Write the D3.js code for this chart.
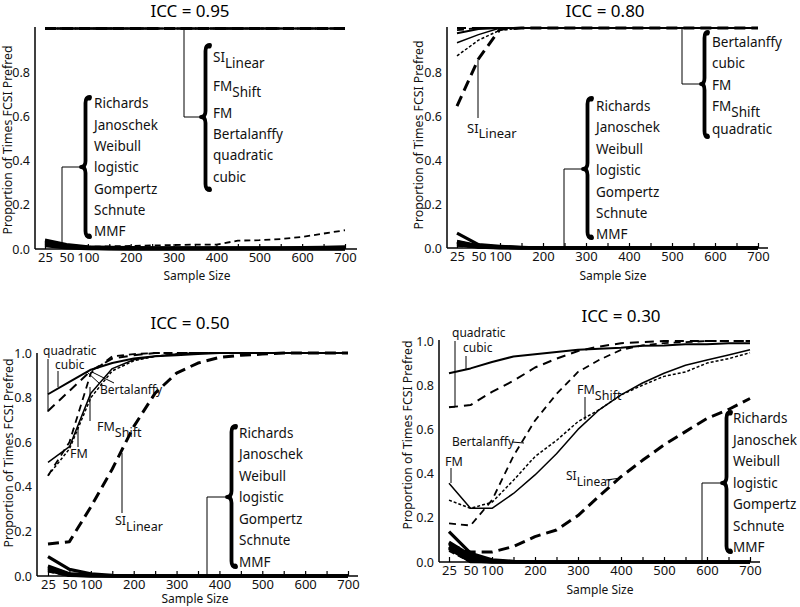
<!DOCTYPE html>
<html><head><meta charset="utf-8">
<script src="https://cdn.jsdelivr.net/npm/d3@7"></script>
<style>
body{margin:0;background:#fff;}
svg{font-family:"Noto Sans","Open Sans",sans-serif;}
</style></head><body>
<svg id="chart" width="800" height="607"></svg>
<script>
// ---------------- data ----------------
const sampleSizes = [25,50,100,150,200,250,300,350,400,450,500,550,600,650,700];
const xTickLabels = [25,50,100,200,300,400,500,600,700];
const yTicksTop = [0,0.2,0.4,0.6,0.8];
const yTicksBottom = [0,0.2,0.4,0.6,0.8,1.0];
const panelTitles = ["ICC = 0.95","ICC = 0.80","ICC = 0.50","ICC = 0.30"];
const lowModels = ["Richards","Janoschek","Weibull","logistic","Gompertz","Schnute","MMF"];
const highModels = ["SI_Linear","FM_Shift","FM","Bertalanffy","quadratic","cubic"];

const icc95 = {
  Richards:   [0.04,0.02,0.01,0.008,0.006,0.005,0.005,0.005,0.005,0.005,0.005,0.005,0.006,0.008,0.01],
  Janoschek:  [0.035,0.015,0.008,0.005,0.004,0.004,0.004,0.004,0.004,0.004,0.004,0.004,0.004,0.005,0.006],
  Weibull:    [0.03,0.012,0.006,0.004,0.003,0.003,0.003,0.003,0.003,0.003,0.003,0.003,0.003,0.003,0.004],
  logistic:   [0.025,0.01,0.005,0.003,0.002,0.002,0.002,0.002,0.002,0.002,0.002,0.002,0.002,0.002,0.002],
  Gompertz:   [0.02,0.008,0.004,0.002,0.001,0.001,0.001,0.001,0.001,0.001,0.001,0.001,0.001,0.001,0.001],
  Schnute:    [0.015,0.005,0.002,0,0,0,0,0,0,0,0,0,0,0,0],
  MMF:        [0.03,0.015,0.01,0.012,0.014,0.016,0.018,0.02,0.02,0.038,0.04,0.045,0.055,0.07,0.085],
  SI_Linear:  [1,1,1,1,1,1,1,1,1,1,1,1,1,1,1],
  FM_Shift:   [1,1,1,1,1,1,1,1,1,1,1,1,1,1,1],
  FM:         [1,1,1,1,1,1,1,1,1,1,1,1,1,1,1],
  Bertalanffy:[1,1,1,1,1,1,1,1,1,1,1,1,1,1,1],
  quadratic:  [1,1,1,1,1,1,1,1,1,1,1,1,1,1,1],
  cubic:      [1,1,1,1,1,1,1,1,1,1,1,1,1,1,1]
};
const icc80 = {
  Richards:   [0.068,0.015,0.008,0.003,0,0,0,0,0,0,0,0,0,0,0],
  Janoschek:  [0.03,0.01,0.005,0.002,0,0,0,0,0,0,0,0,0,0,0],
  Weibull:    [0.028,0.008,0.004,0.001,0,0,0,0,0,0,0,0,0,0,0],
  logistic:   [0.025,0.006,0.003,0,0,0,0,0,0,0,0,0,0,0,0],
  Gompertz:   [0.02,0.005,0.002,0,0,0,0,0,0,0,0,0,0,0,0],
  Schnute:    [0.015,0.004,0.001,0,0,0,0,0,0,0,0,0,0,0,0],
  MMF:        [0.01,0.003,0,0,0,0,0,0,0,0,0,0,0,0,0],
  SI_Linear:  [0.645,0.86,0.995,1,1,1,1,1,1,1,1,1,1,1,1],
  FM_Shift:   [0.873,0.945,0.99,1,1,1,1,1,1,1,1,1,1,1,1],
  FM:         [0.933,0.97,1,1,1,1,1,1,1,1,1,1,1,1,1],
  Bertalanffy:[0.99,1,1,1,1,1,1,1,1,1,1,1,1,1,1],
  quadratic:  [1,1,1,1,1,1,1,1,1,1,1,1,1,1,1],
  cubic:      [0.976,0.995,1,1,1,1,1,1,1,1,1,1,1,1,1]
};
const icc50 = {
  Richards:   [0.087,0.03,0.01,0.003,0,0,0,0,0,0,0,0,0,0,0],
  Janoschek:  [0.045,0.01,0.005,0,0,0,0,0,0,0,0,0,0,0,0],
  Weibull:    [0.04,0.008,0.003,0,0,0,0,0,0,0,0,0,0,0,0],
  logistic:   [0.035,0.005,0.002,0,0,0,0,0,0,0,0,0,0,0,0],
  Gompertz:   [0.03,0.004,0,0,0,0,0,0,0,0,0,0,0,0,0],
  Schnute:    [0.025,0.003,0,0,0,0,0,0,0,0,0,0,0,0,0],
  MMF:        [0.02,0,0,0,0,0,0,0,0,0,0,0,0,0,0],
  SI_Linear:  [0.143,0.154,0.31,0.48,0.67,0.82,0.91,0.955,0.98,0.99,0.995,1,1,1,1],
  FM_Shift:   [0.45,0.57,0.80,0.92,0.965,0.985,0.995,1,1,1,1,1,1,1,1],
  FM:         [0.51,0.58,0.82,0.93,0.97,0.985,0.995,1,1,1,1,1,1,1,1],
  Bertalanffy:[0.45,0.6,0.91,0.985,0.995,1,1,1,1,1,1,1,1,1,1],
  quadratic:  [0.74,0.83,0.92,0.975,0.99,1,1,1,1,1,1,1,1,1,1],
  cubic:      [0.815,0.87,0.925,0.955,0.975,0.985,0.99,0.995,1,1,1,1,1,1,1]
};
const icc30 = {
  Richards:   [0.137,0.04,0.01,0.003,0,0,0,0,0,0,0,0,0,0,0],
  Janoschek:  [0.09,0.03,0.005,0,0,0,0,0,0,0,0,0,0,0,0],
  Weibull:    [0.085,0.02,0.003,0,0,0,0,0,0,0,0,0,0,0,0],
  logistic:   [0.07,0.01,0,0,0,0,0,0,0,0,0,0,0,0,0],
  Gompertz:   [0.065,0.005,0,0,0,0,0,0,0,0,0,0,0,0,0],
  Schnute:    [0.06,0.002,0,0,0,0,0,0,0,0,0,0,0,0,0],
  MMF:        [0.05,0,0,0,0,0,0,0,0,0,0,0,0,0,0],
  SI_Linear:  [0.08,0.045,0.045,0.07,0.115,0.145,0.21,0.30,0.386,0.46,0.53,0.59,0.65,0.69,0.74],
  FM_Shift:   [0.28,0.243,0.27,0.37,0.477,0.55,0.635,0.69,0.756,0.80,0.84,0.86,0.90,0.92,0.947],
  FM:         [0.356,0.243,0.243,0.31,0.394,0.49,0.60,0.69,0.756,0.81,0.854,0.89,0.914,0.937,0.96],
  Bertalanffy:[0.175,0.165,0.28,0.48,0.64,0.76,0.86,0.915,0.96,0.98,0.99,0.995,1,1,1],
  quadratic:  [0.70,0.71,0.77,0.82,0.88,0.92,0.955,0.975,0.99,0.995,1,1,1,1,1],
  cubic:      [0.854,0.876,0.905,0.93,0.94,0.95,0.96,0.965,0.97,0.978,0.98,0.985,0.985,0.99,0.99]
};
const panelData = [icc95, icc80, icc50, icc30];

// ---------------- styles ----------------
const lineStyle = {
  Richards:{w:3.2,dash:null}, Janoschek:{w:3.2,dash:null}, Weibull:{w:3.2,dash:null},
  logistic:{w:3.2,dash:null}, Gompertz:{w:3.2,dash:null}, Schnute:{w:3.2,dash:null},
  MMF:{w:1.8,dash:"6,4"},
  SI_Linear:{w:3,dash:"11,6"},
  FM_Shift:{w:1.5,dash:"3,2"},
  FM:{w:1.5,dash:null},
  Bertalanffy:{w:1.8,dash:"7,5"},
  quadratic:{w:2,dash:"9,6"},
  cubic:{w:2,dash:null}
};

const layout = [
  {x0:45,x1:345,yZero:249,yOne:28.5,axisX:35,axisEnd:357,axisTop:27,yTicks:yTicksTop,
   titleX:190,titleY:17,xLabX:197,xLabY:280,yLabX:8,yLabY:140},
  {x0:457,x1:758,yZero:248,yOne:28,axisX:447,axisEnd:768,axisTop:27,yTicks:yTicksTop,
   titleX:605,titleY:17,xLabX:613,xLabY:280,yLabX:419,yLabY:135},
  {x0:48,x1:348,yZero:576,yOne:353,axisX:37,axisEnd:358,axisTop:353,yTicks:yTicksBottom,
   titleX:190,titleY:329,xLabX:195,xLabY:603,yLabX:9,yLabY:453},
  {x0:449,x1:750,yZero:562,yOne:341,axisX:439,axisEnd:760,axisTop:340,yTicks:yTicksBottom,
   titleX:621,titleY:322,xLabX:600,xLabY:594,yLabX:408,yLabY:435}
];

// annotations (brace: [tipX, rightX, top, bottom, tipY])
const annotations = [
  { groups:[
      {items:lowModels, textX:94, ys:[103,125,146,167,189,210,231], brace:[81,90,97,237,167],
       leader:[[81,167],[62,167],[62,249]]},
      {items:["SI_Linear","FM_Shift","FM","Bertalanffy","quadratic","cubic"], textX:213,
       ys:[57,86,113,134,155,177], brace:[201,210,45,190,117], leader:[[201,117],[184,117],[184,27]]}
    ], labels:[], leaders:[] },
  { groups:[
      {items:["Bertalanffy","cubic","FM","FM_Shift","quadratic"], textX:712, ys:[42,63,85,106,129],
       brace:[701,708,32,137,84], leader:[[701,84],[682,84],[682,27]]},
      {items:lowModels, textX:596, ys:[106,127,149,170,192,213,234], brace:[583,592,98,238,169],
       leader:[[583,169],[564,169],[564,248]]}
    ],
    labels:[{t:"SI_Linear",x:467,y:128,s:13}],
    leaders:[[[478,60],[478,118]]] },
  { groups:[
      {items:lowModels, textX:239, ys:[433,454,476,497,519,540,562], brace:[227,236,426,567,497],
       leader:[[227,497],[207,497],[207,576]]}
    ],
    labels:[{t:"quadratic",x:43,y:351,s:12},{t:"cubic",x:55,y:365,s:12},
            {t:"Bertalanffy",x:100,y:390,s:12},{t:"FM_Shift",x:97,y:427,s:12.5},
            {t:"FM",x:70,y:454,s:12.5},{t:"SI_Linear",x:115,y:521,s:12.5}],
    leaders:[[[48,359],[48,412]],[[58,371],[58,387]],[[87,372],[100,384]],[[92,372],[114,383]],
             [[90,387],[90,421]],[[78,427],[78,447]],[[122,453],[122,513]]] },
  { groups:[
      {items:lowModels, textX:733, ys:[418,440,461,483,504,526,547], brace:[722,731,412,552,483],
       leader:[[722,483],[702,483],[702,562]]}
    ],
    labels:[{t:"quadratic",x:452,y:333,s:12},{t:"cubic",x:463,y:348,s:12},
            {t:"FM_Shift",x:577,y:390,s:12.5},{t:"Bertalanffy",x:452,y:442,s:12},
            {t:"FM",x:445,y:462,s:12.5},{t:"SI_Linear",x:566,y:476,s:12}],
    leaders:[[[455,341],[455,407],[449,407]],[[466,356],[466,369]],[[585,397],[585,420]],
             [[512,442],[524,443]],[[451,468],[451,483]],[[606,480],[621,478]]] }
];

// ---------------- drawing ----------------
const svg = d3.select("#chart");
const drawOrder = [...lowModels, ...highModels];

function drawLabel(x, cy, name, size){
  const parts = name.split("_");
  const t = svg.append("text").attr("x",x).attr("y",cy).attr("dy","0.35em")
    .style("font-size",size+"px").attr("fill","#111");
  t.append("tspan").text(parts[0]);
  if(parts[1]) t.append("tspan").attr("dy","0.45em").text(parts[1]);
}
function brace(b){
  const [xt,xr,top,bot,ty] = b, xm=(xt+xr)/2, r=6;
  const p = `M${xr},${top} Q${xm},${top} ${xm},${top+r} L${xm},${ty-r} Q${xm},${ty} ${xt},${ty} `+
            `Q${xm},${ty} ${xm},${ty+r} L${xm},${bot-r} Q${xm},${bot} ${xr},${bot}`;
  svg.append("path").attr("d",p).attr("fill","none").attr("stroke","#000")
    .attr("stroke-width",3.8).attr("stroke-linecap","round").attr("stroke-linejoin","round");
  [[xr-1,top+1],[xr-1,bot-1]].forEach(c=>svg.append("circle").attr("cx",c[0]).attr("cy",c[1]).attr("r",2.6).attr("fill","#000"));
}
const leaderLine = d3.line();

layout.forEach((L, pi) => {
  const data = panelData[pi];
  const x = d3.scalePoint().domain(sampleSizes).range([L.x0, L.x1]);
  const y = d3.scaleLinear().domain([0,1]).range([L.yZero, L.yOne]);

  // axes
  const gx = svg.append("g").attr("transform",`translate(0,${L.yZero})`)
    .call(d3.axisBottom(x).tickSizeInner(-5).tickSizeOuter(0).tickPadding(4)
      .tickFormat(d => xTickLabels.includes(d) ? d : ""));
  gx.select(".domain").remove();
  gx.selectAll("line").attr("stroke","#000").attr("stroke-width",1.2);
  gx.selectAll("text").style("font-size","13px").attr("fill","#111").attr("font-family","Noto Sans");

  const gy = svg.append("g").attr("transform",`translate(${L.axisX},0)`)
    .call(d3.axisLeft(y).tickValues(L.yTicks).tickSize(0).tickPadding(5).tickFormat(d3.format(".1f")));
  gy.select(".domain").remove();
  gy.selectAll("text").style("font-size","12.5px").attr("fill","#111").attr("font-family","Noto Sans");

  svg.append("line").attr("x1",L.axisX).attr("x2",L.axisEnd).attr("y1",L.yZero).attr("y2",L.yZero)
    .attr("stroke","#000").attr("stroke-width",1.5);
  svg.append("line").attr("x1",L.axisX).attr("x2",L.axisX).attr("y1",L.axisTop).attr("y2",L.yZero)
    .attr("stroke","#000").attr("stroke-width",1.5);

  // titles
  svg.append("text").attr("x",L.titleX).attr("y",L.titleY).attr("text-anchor","middle")
    .style("font-size","17px").attr("fill","#000").text(panelTitles[pi]);
  svg.append("text").attr("x",L.xLabX).attr("y",L.xLabY).attr("text-anchor","middle")
    .style("font-size","12px").attr("fill","#111").text("Sample Size");
  svg.append("text").attr("transform",`translate(${L.yLabX},${L.yLabY}) rotate(-90)`)
    .attr("text-anchor","middle").attr("dy","0.35em").style("font-size","12.3px").attr("fill","#111")
    .text("Proportion of Times FCSI Prefred");

  // lines
  const line = d3.line().x((d,i)=>x(sampleSizes[i])).y(d=>y(d));
  drawOrder.forEach(m => {
    const st = lineStyle[m];
    svg.append("path").datum(data[m]).attr("d",line).attr("fill","none").attr("stroke","#000")
      .attr("stroke-width",st.w).attr("stroke-dasharray",st.dash).attr("stroke-linejoin","round");
  });

  // annotations
  const A = annotations[pi];
  A.groups.forEach(g => {
    g.items.forEach((it,k) => drawLabel(g.textX, g.ys[k], it, 13.5));
    brace(g.brace);
    svg.append("path").attr("d",leaderLine(g.leader)).attr("fill","none").attr("stroke","#000").attr("stroke-width",1);
  });
  A.labels.forEach(l => drawLabel(l.x, l.y, l.t, l.s));
  A.leaders.forEach(p => svg.append("path").attr("d",leaderLine(p)).attr("fill","none")
    .attr("stroke","#000").attr("stroke-width",1));
});
</script>
</body></html>
